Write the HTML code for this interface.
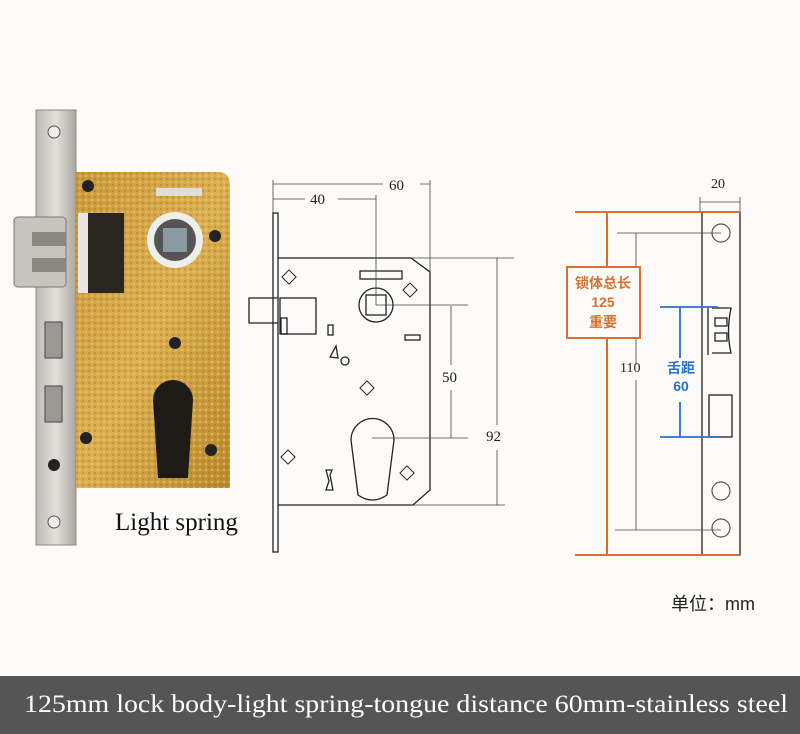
<!DOCTYPE html>
<html><head><meta charset="utf-8"><style>html,body{margin:0;padding:0;background:#fcfbf9}svg{display:block}</style></head><body>
<svg width="800" height="734" viewBox="0 0 800 734" xmlns="http://www.w3.org/2000/svg">
<defs>
<linearGradient id="steel" x1="0" x2="1"><stop offset="0" stop-color="#bfbcb8"/><stop offset="0.5" stop-color="#e2dfdb"/><stop offset="1" stop-color="#aaa6a2"/></linearGradient>
<linearGradient id="gold" x1="0" y1="0" x2="1" y2="1"><stop offset="0" stop-color="#c99a3a"/><stop offset="0.5" stop-color="#dcae52"/><stop offset="1" stop-color="#b98a2c"/></linearGradient>
<pattern id="dots" width="6" height="6" patternUnits="userSpaceOnUse"><circle cx="2" cy="2" r="1.2" fill="#f0cf7a" opacity="0.6"/><circle cx="5" cy="5" r="1" fill="#8a6420" opacity="0.4"/></pattern>
</defs>
<rect width="800" height="734" fill="#fcfbf9"/>
<rect x="36" y="110" width="40" height="435" fill="url(#steel)" stroke="#8d8985" stroke-width="1"/>
<path d="M76 172 H218 Q230 172 230 186 V488 H76 Z" fill="url(#gold)"/>
<path d="M76 172 H218 Q230 172 230 186 V488 H76 Z" fill="url(#dots)"/>
<rect x="78" y="213" width="46" height="80" fill="#2a2620"/>
<rect x="78" y="213" width="10" height="80" fill="#e8e6e2"/>
<rect x="14" y="217" width="52" height="70" rx="4" fill="#c7c4c0" stroke="#777" />
<rect x="32" y="232" width="34" height="14" fill="#8a8782"/><rect x="32" y="258" width="34" height="14" fill="#8a8782"/>
<circle cx="175" cy="240" r="28" fill="#eeeeea"/><circle cx="175" cy="240" r="21" fill="#555"/><rect x="163" y="228" width="24" height="24" fill="#8a9aa2"/>
<rect x="156" y="188" width="46" height="8" fill="#ddd"/>
<path d="M153 400 A20 20 0 1 1 193 400 L188 478 H158 Z" fill="#1e1b16"/>
<rect x="45" y="322" width="17" height="36" fill="#9c9894" stroke="#444"/>
<rect x="45" y="386" width="17" height="36" fill="#9c9894" stroke="#444"/>
<circle cx="54" cy="465" r="6" fill="#222"/>
<circle cx="54" cy="132" r="6" fill="#eee" stroke="#555"/><circle cx="54" cy="522" r="6" fill="#eee" stroke="#555"/>
<g fill="#222"><circle cx="88" cy="186" r="6"/><circle cx="215" cy="236" r="6"/><circle cx="175" cy="343" r="6"/><circle cx="86" cy="438" r="6"/><circle cx="211" cy="450" r="6"/></g>
<text x="115" y="530" font-family="Liberation Serif" font-size="25" fill="#111">Light spring</text>
<g fill="none" stroke="#222" stroke-width="1.3">
<rect x="273" y="213" width="5" height="339" fill="#fff"/>
<path d="M278 258 H411 L430 272 V490 L413 505 H278"/>
<path d="M278 298 H249 V323 H278"/>
<rect x="280" y="298" width="36" height="36"/><rect x="281" y="318" width="6" height="16"/>
<rect x="360" y="271" width="42" height="8"/>
<circle cx="376" cy="305" r="17"/><rect x="366" y="295" width="20" height="20"/>
<rect x="405" y="335" width="15" height="5"/><rect x="328" y="325" width="5" height="10"/>
<circle cx="345" cy="361" r="4"/><path d="M330 357 L336 346 L338 358 Z"/>
<path d="M351 440 A21 21 0 1 1 394 440 L387 495 Q372 505 358 495 Z"/>
<path d="M326 470 H332 L330 475 L333 490 H326 L329 481 Z"/>
<g stroke-width="1"><rect x="284" y="272" width="10" height="10" transform="rotate(45 289 277)"/><rect x="405" y="285" width="10" height="10" transform="rotate(45 410 290)"/><rect x="362" y="383" width="10" height="10" transform="rotate(45 367 388)"/><rect x="283" y="452" width="10" height="10" transform="rotate(45 288 457)"/><rect x="402" y="468" width="10" height="10" transform="rotate(45 407 473)"/></g>
</g>
<g stroke="#444" stroke-width="0.8" fill="none">
<path d="M273 213 V180 M430 272 V180 M376 305 V195"/>
<path d="M273 184 H383 M420 184 H430"/>
<path d="M273 199 H305 M338 199 H376"/>
<path d="M376 305 H468 M372 438 H468 M411 258 H514 M413 505 H505"/>
<path d="M451 306 V365 M451 390 V438"/>
<path d="M497 258 V425 M497 450 V505"/>
</g>
<g font-family="Liberation Serif" font-size="15" fill="#222">
<text x="310" y="204">40</text><text x="389" y="190">60</text><text x="442" y="382">50</text><text x="486" y="441">92</text>
</g>
<g fill="none" stroke="#222" stroke-width="1.3">
<rect x="702" y="212" width="38" height="343"/>
<path d="M708 308 V355 M712 308 H731 Q726 332 731 353 H712"/>
<rect x="715" y="318" width="12" height="8"/><rect x="715" y="333" width="12" height="8"/>
<rect x="709" y="395" width="23" height="42"/>
</g>
<g fill="none" stroke="#555" stroke-width="1.2"><circle cx="721" cy="233" r="9"/><circle cx="721" cy="491" r="9"/><circle cx="721" cy="528" r="9"/></g>
<g stroke="#444" stroke-width="0.8"><path d="M700 202 H740 M700 197 V212 M740 197 V212"/><path d="M617 233 H721 M615 530 H721 M636 233 V365 M636 380 V530"/></g>
<text x="711" y="188" font-family="Liberation Serif" font-size="14" fill="#222">20</text>
<text x="620" y="372" font-family="Liberation Serif" font-size="14" fill="#222">110</text>
<g stroke="#d9712e" stroke-width="2" fill="none"><path d="M575 212 H740 M575 555 H740 M607 212 V267 M607 338 V555"/><rect x="567" y="267" width="73" height="71" fill="#fcfbf9"/></g>
<g font-family="Liberation Sans, Noto Sans CJK SC, sans-serif" font-size="14" font-weight="bold" fill="#d9712e" text-anchor="middle"><text x="603" y="288">锁体总长</text><text x="603" y="307">125</text><text x="603" y="327">重要</text></g>
<g stroke="#2a6fc9" stroke-width="1.8"><path d="M660 307 H718 M660 437 H718 M680 307 V358 M680 402 V437"/></g>
<g font-family="Liberation Sans, Noto Sans CJK SC, sans-serif" font-size="14" font-weight="bold" fill="#2a6fc9" text-anchor="middle"><text x="681" y="373">舌距</text><text x="681" y="391">60</text></g>
<text x="671" y="610" font-family="Liberation Sans, Noto Sans CJK SC, sans-serif" font-size="18" fill="#222">单位：mm</text>
<rect x="0" y="676" width="800" height="58" fill="#555"/>
<text x="24" y="712" font-family="Liberation Serif" font-size="25" fill="#fff" textLength="764" lengthAdjust="spacingAndGlyphs">125mm lock body-light spring-tongue distance 60mm-stainless steel</text>
</svg>
</body></html>
